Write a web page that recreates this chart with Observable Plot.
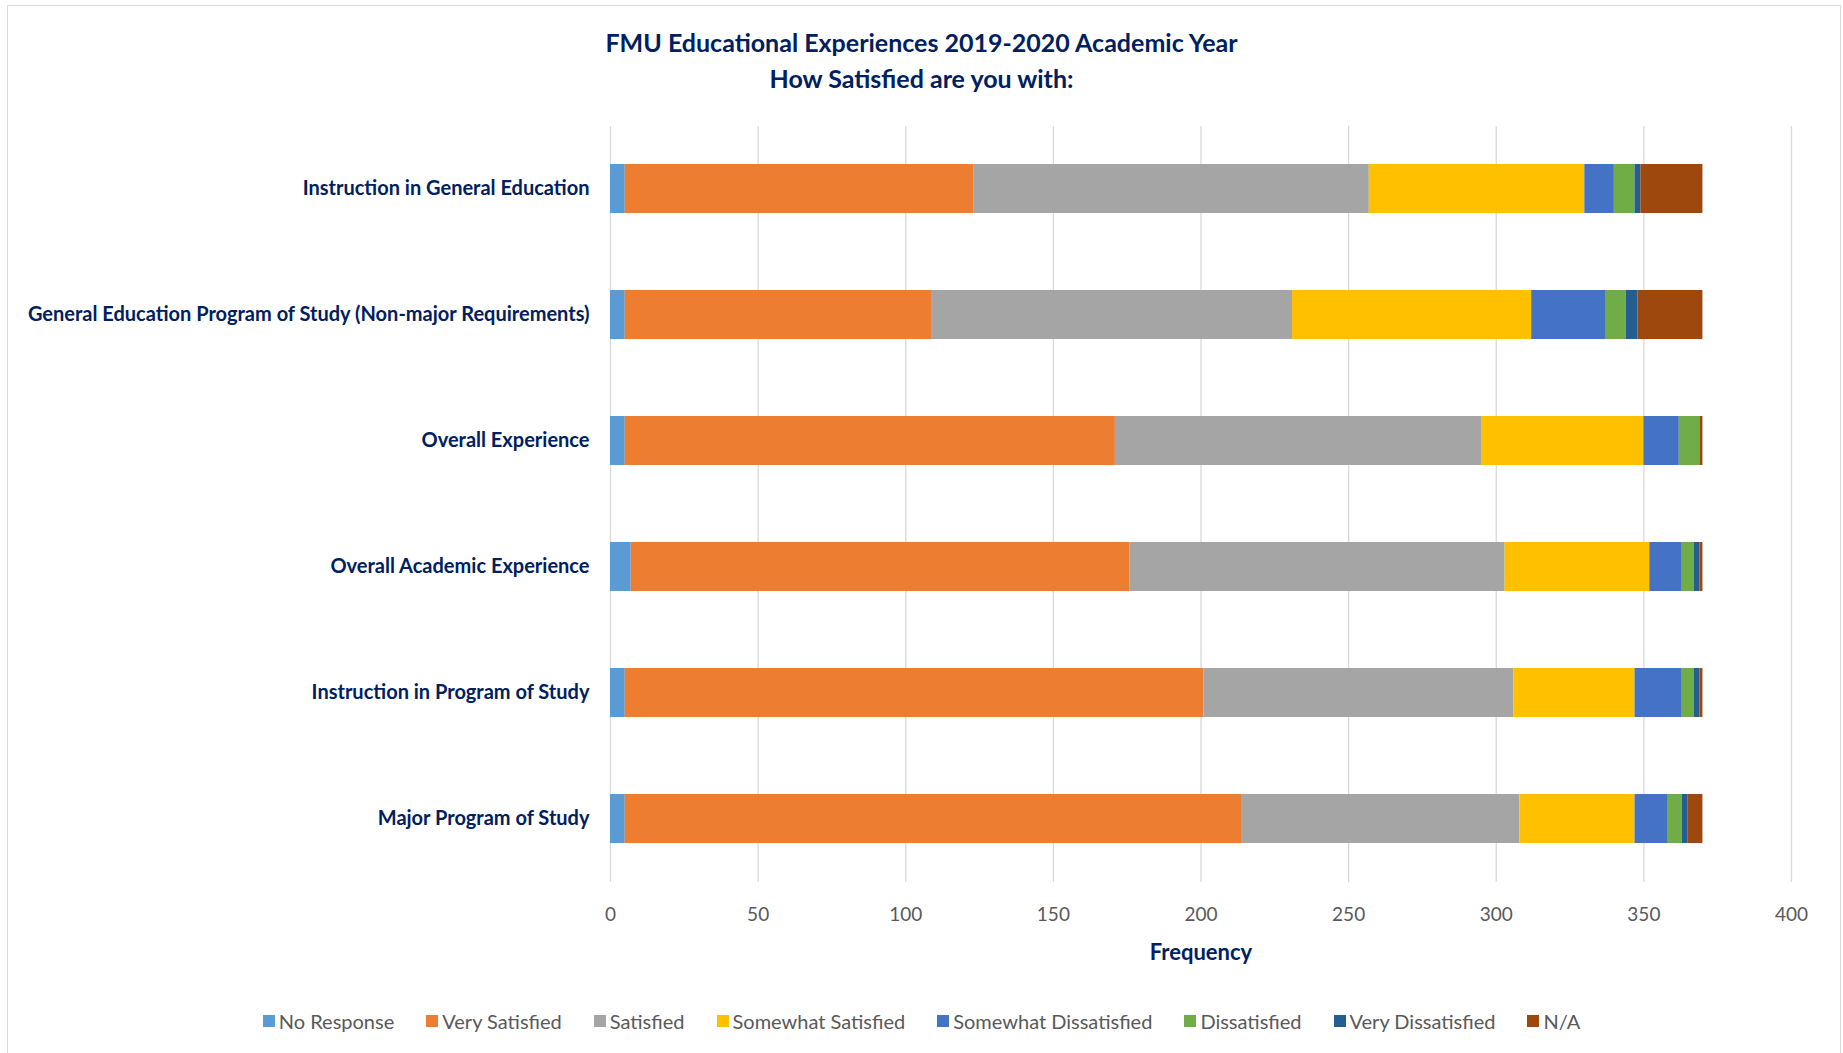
<!DOCTYPE html>
<html>
<head>
<meta charset="utf-8">
<script src="https://cdn.jsdelivr.net/npm/d3@7"></script>
<script src="https://cdn.jsdelivr.net/npm/@observablehq/plot@0.6"></script>
<style>
  body { margin: 0; background: #fff; font-family: Lato, "Open Sans", sans-serif; }
  #frame { position: absolute; left: 7px; top: 5px; width: 1834px; height: 1060px; border: 1px solid #d9d9d9; box-sizing: border-box; z-index: 5; pointer-events: none; }
  #title { position: absolute; left: 0; top: 24px; width: 1843px; text-align: center; color: #002060; font-weight: bold; font-size: 25px; line-height: 36px; }
  #chart { position: absolute; left: 0; top: 110px; }
  #legend { position: absolute; left: 0; top: 1008px; width: 1843px; display: flex; justify-content: center; gap: 32px; color: #595959; font-size: 20px; line-height: 26px; }
  .item { display: flex; align-items: center; gap: 4px; }
  .sw { width: 12px; height: 12px; display: inline-block; }
</style>
</head>
<body>
<div id="frame"></div>
<div id="title">FMU Educational Experiences 2019-2020 Academic Year<br>How Satisfied are you with:</div>
<div id="chart"></div>
<div id="legend"></div>
<script>
const categories = [
  "Instruction in General Education",
  "General Education Program of Study (Non-major Requirements)",
  "Overall Experience",
  "Overall Academic Experience",
  "Instruction in Program of Study",
  "Major Program of Study"
];
const statuses = ["No Response", "Very Satisfied", "Satisfied", "Somewhat Satisfied",
  "Somewhat Dissatisfied", "Dissatisfied", "Very Dissatisfied", "N/A"];
const colors = ["#5B9BD5", "#ED7D31", "#A5A5A5", "#FFC000", "#4472C4", "#70AD47", "#255E91", "#9E480E"];

const noResponse           = [5, 5, 5, 7, 5, 5];
const verySatisfied        = [118, 104, 166, 169, 196, 209];
const satisfied            = [134, 122, 124, 127, 105, 94];
const somewhatSatisfied    = [73, 81, 55, 49, 41, 39];
const somewhatDissatisfied = [10, 25, 12, 11, 16, 11];
const dissatisfied         = [7, 7, 7, 4, 4, 5];
const veryDissatisfied     = [2, 4, 0, 2, 2, 2];
const notApplicable        = [21, 22, 1, 1, 1, 5];

const xTicks = [0, 50, 100, 150, 200, 250, 300, 350, 400];

const series = [noResponse, verySatisfied, satisfied, somewhatSatisfied,
  somewhatDissatisfied, dissatisfied, veryDissatisfied, notApplicable];
const rows = [];
statuses.forEach((s, i) => categories.forEach((c, j) => rows.push({category: c, status: s, value: series[i][j]})));

const chart = Plot.plot({
  width: 1843,
  height: 862,
  marginLeft: 610,
  marginRight: 52,
  marginTop: 16,
  marginBottom: 90,
  style: {fontFamily: "Lato, 'Open Sans', sans-serif", background: "transparent"},
  x: {domain: [0, 400]},
  y: {domain: categories, paddingInner: 0.61, paddingOuter: 0.305},
  color: {domain: statuses, range: colors},
  marks: [
    Plot.gridX(xTicks, {stroke: "#d9d9d9", strokeOpacity: 1, strokeWidth: 1.3}),
    Plot.barX(rows, {x: "value", y: "category", fill: "status", order: statuses}),
    Plot.axisX(xTicks, {tickSize: 0, tickPadding: 25, fontSize: 19, fill: "#595959", label: null}),
    Plot.text(["Frequency"], {frameAnchor: "bottom", dy: 77, fontSize: 22, fontWeight: "bold", fill: "#002060"}),
    Plot.axisY({tickSize: 0, tickPadding: 21, fontSize: 20, fontWeight: "bold", fill: "#002060", label: null})
  ]
});
document.getElementById("chart").appendChild(chart);

const legend = document.getElementById("legend");
statuses.forEach((s, i) => {
  const item = document.createElement("div");
  item.className = "item";
  const sw = document.createElement("span");
  sw.className = "sw";
  sw.style.background = colors[i];
  const t = document.createElement("span");
  t.textContent = s;
  item.appendChild(sw);
  item.appendChild(t);
  legend.appendChild(item);
});
</script>
</body>
</html>
